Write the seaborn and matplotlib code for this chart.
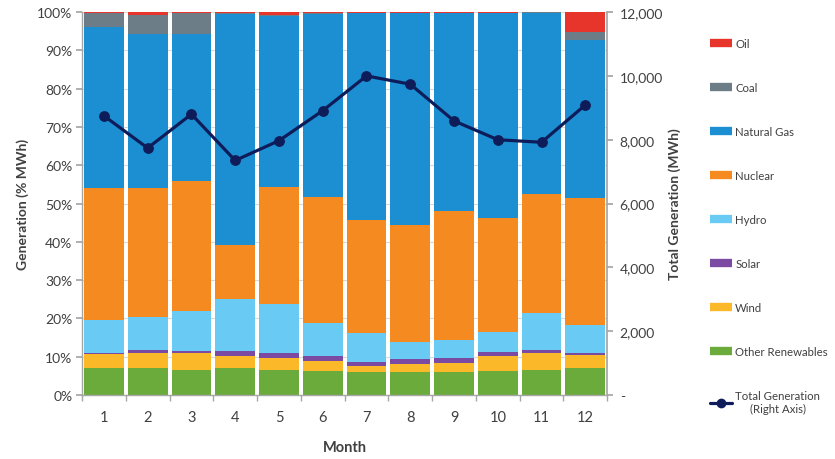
import numpy as np
import pandas as pd
import matplotlib
matplotlib.use("Agg")
import matplotlib.pyplot as plt
from matplotlib.lines import Line2D
from matplotlib.ticker import FuncFormatter, MultipleLocator, FixedLocator
import seaborn as sns

# Monthly generation mix (% of MWh), bottom to top of each stack
months = [str(m) for m in range(1, 13)]
other_renewables = [7.0, 7.0, 6.5, 7.0, 6.5, 6.3, 6.1, 6.1, 6.1, 6.3, 6.6, 7.0]
wind = [3.6, 4.1, 4.4, 3.3, 3.3, 2.7, 1.6, 2.1, 2.4, 3.8, 4.4, 3.5]
solar = [0.3, 0.6, 0.5, 1.2, 1.1, 1.3, 0.9, 1.1, 1.1, 1.1, 0.7, 0.6]
hydro = [8.6, 8.8, 10.6, 13.6, 12.8, 8.4, 7.5, 4.6, 4.8, 5.2, 9.6, 7.2]
nuclear = [34.5, 33.6, 33.8, 14.1, 30.7, 33.0, 29.7, 30.5, 33.6, 29.9, 31.3, 33.1]
natural_gas = [42.2, 40.2, 38.5, 60.3, 44.5, 47.8, 53.9, 55.3, 51.7, 53.4, 47.2, 41.4]
coal = [3.5, 5.0, 5.5, 0.3, 0.4, 0.2, 0.1, 0.1, 0.1, 0.1, 0.1, 2.1]
oil = [0.3, 0.7, 0.2, 0.2, 0.7, 0.3, 0.2, 0.2, 0.2, 0.2, 0.1, 5.1]

# Total monthly generation (MWh), right axis
total_generation = [8750, 7740, 8800, 7350, 7970, 8910, 10000, 9740, 8590, 8000, 7920, 9090]

series_names = ["Other Renewables", "Wind", "Solar", "Hydro", "Nuclear",
                "Natural Gas", "Coal", "Oil"]
series_values = [other_renewables, wind, solar, hydro, nuclear,
                 natural_gas, coal, oil]
series_colors = ["#6AAB3B", "#FBB829", "#7B4BA3", "#69CBF3", "#F58A20",
                 "#1B8FD2", "#6C7D88", "#E8352B"]
line_color = "#0E1D5A"

sns.set_theme(style="white")
plt.rcParams["font.family"] = ["Lato", "DejaVu Sans"]
text_color = "#404040"
spine_color = "#A6A6A6"

fig = plt.figure(figsize=(8.35, 4.6), dpi=100)
ax = fig.add_axes([0.0982, 0.139, 0.629, 0.8326])

df = pd.DataFrame(dict(zip(series_names, series_values)), index=months)
cum = df.cumsum(axis=1)

# Stacked bars: draw cumulative heights from the tallest down
ax.set_axisbelow(True)
ax.yaxis.grid(True, color="#D9D9D9", linewidth=0.8)
for name, color in reversed(list(zip(series_names, series_colors))):
    sns.barplot(x=months, y=cum[name].values, order=months, color=color,
                saturation=1, width=0.91, linewidth=0, errorbar=None, ax=ax)

ax.set_xlim(-0.5, 11.5)
ax.set_ylim(0, 100)
ax.yaxis.set_major_locator(MultipleLocator(10))
ax.yaxis.set_major_formatter(FuncFormatter(lambda v, p: f"{v:.0f}%"))
ax.xaxis.set_minor_locator(FixedLocator(np.arange(-0.5, 12, 1.0)))
ax.tick_params(axis="x", which="major", length=0, pad=11, labelsize=10.5,
               colors=text_color)
ax.tick_params(axis="x", which="minor", length=4, color=spine_color,
               direction="out", bottom=True)
ax.tick_params(axis="y", length=4, color=spine_color, direction="out", left=True,
               labelsize=10, colors=text_color, pad=3)
for side in ["left", "bottom"]:
    ax.spines[side].set_color(spine_color)
    ax.spines[side].set_linewidth(1.0)
for side in ["top", "right"]:
    ax.spines[side].set_visible(False)

ax.set_xlabel("Month", fontsize=10.5, fontweight="bold", color=text_color,
              labelpad=11)
ax.set_ylabel("Generation (% MWh)", fontsize=10, fontweight="bold",
              color=text_color, labelpad=6)

# Total generation line on the secondary axis
ax2 = ax.twinx()
sns.lineplot(x=np.arange(12), y=total_generation, ax=ax2, color=line_color,
             linewidth=2.3, marker="o", markersize=7, markeredgecolor=line_color)
ax2.set_ylim(0, 12000)
ax2.yaxis.set_major_locator(MultipleLocator(2000))
ax2.yaxis.set_major_formatter(
    FuncFormatter(lambda v, p: "-" if v == 0 else f"{v:,.0f}"))
ax2.tick_params(axis="y", length=4, color=spine_color, direction="out", right=True,
                labelsize=10, colors=text_color, pad=5)
for side in ["left", "bottom", "top"]:
    ax2.spines[side].set_visible(False)
ax2.spines["right"].set_color(spine_color)
ax2.set_ylabel("Total Generation (MWh)", fontsize=10, fontweight="bold",
               color=text_color, labelpad=4)
ax2.set_xlim(-0.5, 11.5)

# Legend, top to bottom
handles = [Line2D([0], [0], color=c, linewidth=6, solid_capstyle="butt")
           for c in reversed(series_colors)]
labels = list(reversed(series_names))
handles.append(Line2D([0], [0], color=line_color, linewidth=2.3, marker="o",
                      markersize=6))
labels.append("Total Generation\n(Right Axis)")
leg = fig.legend(handles, labels, loc="upper left",
                 bbox_to_anchor=(0.843, 0.927), frameon=False, fontsize=8.2,
                 handlelength=2.0, handletextpad=0.25, labelspacing=2.9,
                 borderpad=0)
for t in leg.get_texts():
    t.set_color(text_color)
    t.set_multialignment("center")

fig.savefig("out.png", dpi=100)
